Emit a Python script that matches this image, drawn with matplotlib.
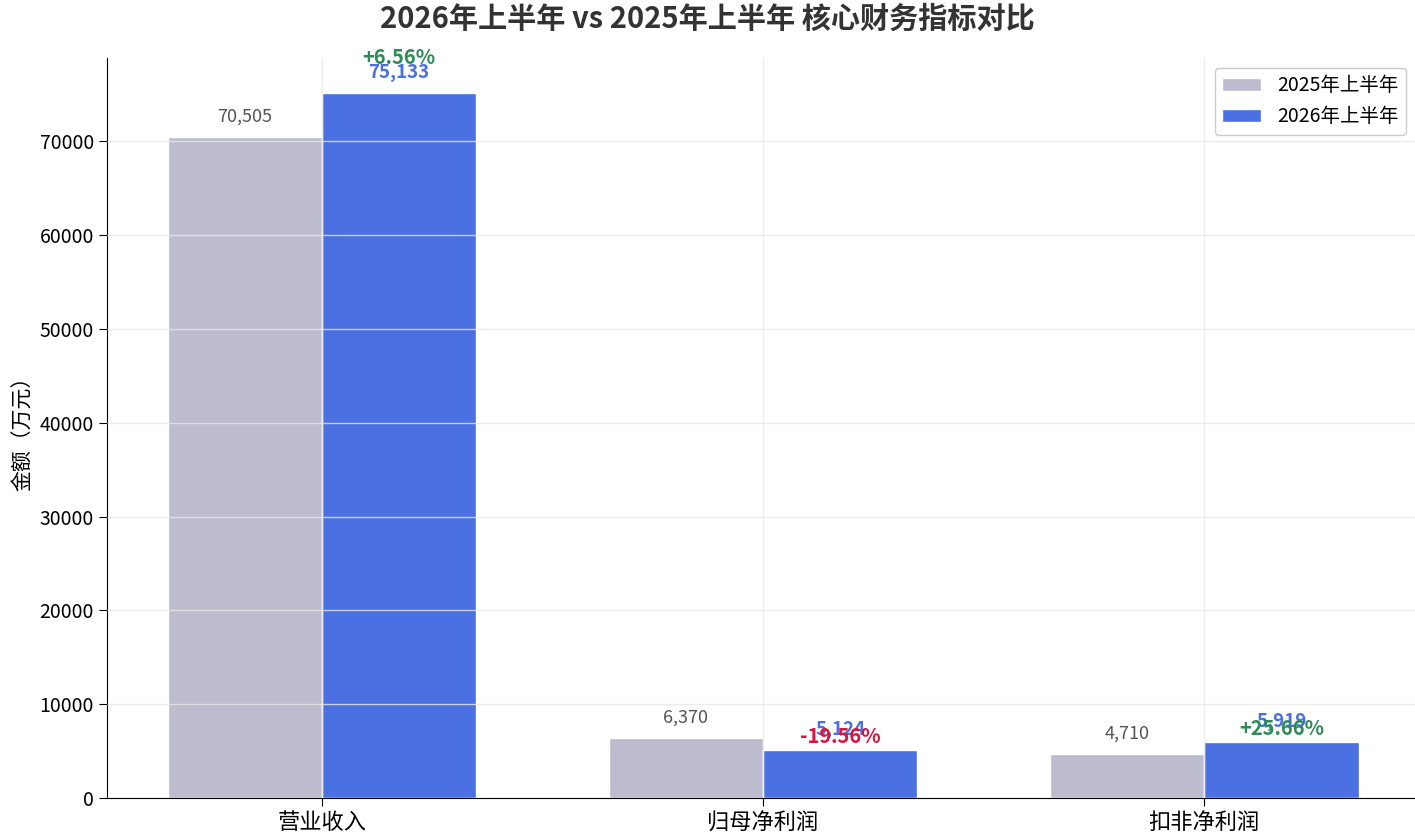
import matplotlib
matplotlib.use("Agg")
import matplotlib.pyplot as plt
import numpy as np

plt.rcParams['font.family'] = ['Noto Sans CJK SC', 'DejaVu Sans']
plt.rcParams['axes.unicode_minus'] = False

# 数据（万元）
metrics = ['营业收入', '归母净利润', '扣非净利润']
h1_2025 = [70505, 6370, 4710]
h1_2026 = [75133, 5124, 5919]
growth = [6.56, -19.56, 25.66]

c_2025 = '#BDBCCE'
c_2026 = '#4A70E2'

x = np.arange(len(metrics))
w = 0.35

fig = plt.figure(figsize=(14.15, 8.39), dpi=100)
ax = fig.add_axes([0.0756, 0.0489, 0.925, 0.882])

ax.bar(x - w / 2, h1_2025, w, color=c_2025, edgecolor='white', linewidth=1, label='2025年上半年')
ax.bar(x + w / 2, h1_2026, w, color=c_2026, edgecolor='white', linewidth=1, label='2026年上半年')

ymax = max(h1_2026) * 1.05
ax.set_ylim(0, ymax)
ax.set_xlim(x[0] - 0.4875, x[-1] + 0.48)

off = ymax * 0.015
for i in range(len(metrics)):
    ax.text(x[i] - w / 2, h1_2025[i] + off, f'{h1_2025[i]:,}', ha='center', va='bottom',
            fontsize=13, color='#555555')
    ax.text(x[i] + w / 2, h1_2026[i] + off, f'{h1_2026[i]:,}', ha='center', va='bottom',
            fontsize=13.5, color=c_2026, fontweight='bold')
    g = growth[i]
    col = '#2E8B57' if g >= 0 else '#DC143C'
    ypct = h1_2026[i] + max(h1_2026[i] * 0.05, 1450)
    ax.text(x[i] + w / 2, ypct, f'{g:+.2f}%', ha='center', va='center',
            fontsize=14.5, color=col, fontweight='bold')

ax.set_xticks(x)
ax.set_xticklabels(metrics, fontsize=16)
ax.tick_params(axis='y', labelsize=14, length=6)
ax.tick_params(axis='x', length=6)
ax.set_ylabel('金额（万元）', fontsize=15)
ax.grid(True, color='#e8e8e8', linewidth=1, alpha=0.8)
ax.set_axisbelow(False)
ax.spines['top'].set_visible(False)
ax.spines['right'].set_visible(False)

ax.legend(loc='upper right', fontsize=14, framealpha=1, edgecolor='#cccccc')
fig.suptitle('2026年上半年 vs 2025年上半年 核心财务指标对比', fontsize=21,
             fontweight='bold', color='#333333', y=0.995)

fig.savefig('out.png', dpi=100)
